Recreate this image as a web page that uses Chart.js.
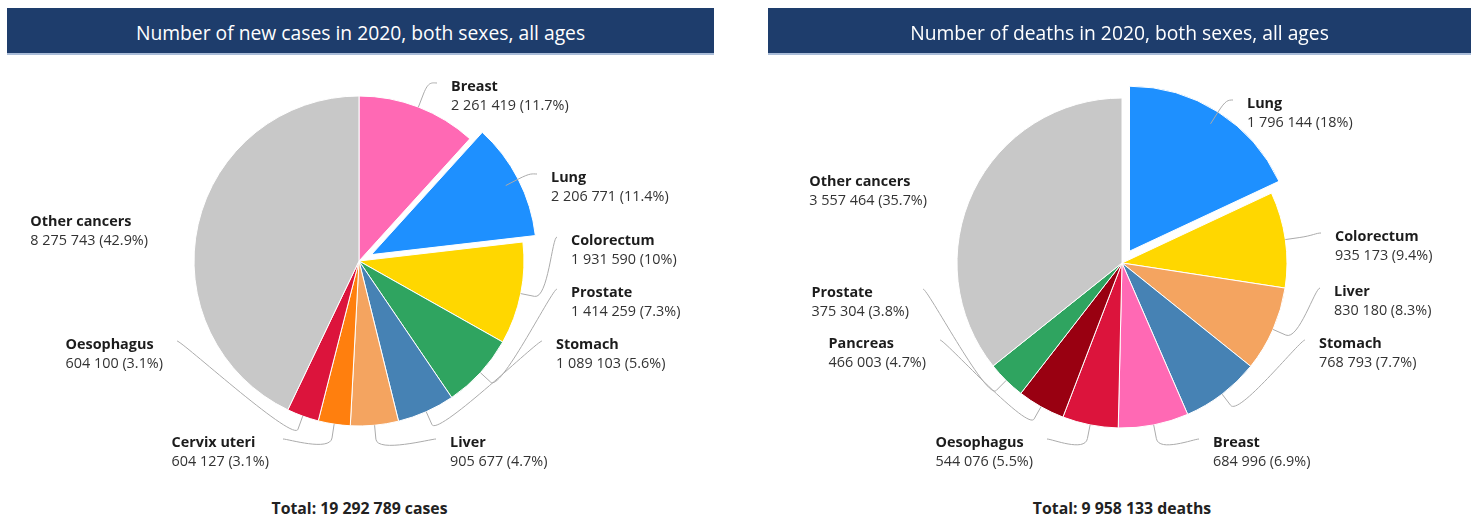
<!DOCTYPE html>
<html><head><meta charset="utf-8">
<script src="https://cdn.jsdelivr.net/npm/chart.js@4.4.1/dist/chart.umd.min.js"></script>
<style>
html,body{margin:0;padding:0;background:#fff;width:1478px;height:517px;overflow:hidden;font-family:"Open Sans",sans-serif;}
.hdr{position:absolute;top:8px;height:45px;background:#1e3d6c;color:#fff;font-size:19.3px;line-height:50px;text-align:center;border-bottom:2px solid #a9bcd8;overflow:hidden;z-index:2;white-space:nowrap}
.box{position:absolute;height:440px;z-index:1}
.total{position:absolute;top:497px;height:22px;line-height:22px;font-weight:bold;font-size:15.8px;color:#222;text-align:center}
</style></head>
<body>
<div class="hdr" style="left:7px;width:707px;">Number of new cases in 2020, both sexes, all ages</div>
<div class="hdr" style="left:768px;width:703px;">Number of deaths in 2020, both sexes, all ages</div>
<div class="box" style="left:0px;top:41px;width:718px;"><canvas id="c1"></canvas></div>
<div class="box" style="left:772px;top:43px;width:700px;"><canvas id="c2"></canvas></div>
<div class="total" id="t1" style="left:0px;width:719px;"></div>
<div class="total" id="t2" style="left:772px;width:700px;"></div>
<script>
// ---- data ----
const casesLabels = ['Breast','Lung','Colorectum','Prostate','Stomach','Liver','Cervix uteri','Oesophagus','Other cancers'];
const casesValues = [2261419,2206771,1931590,1414259,1089103,905677,604127,604100,8275743];
const casesColors = ['#ff69b4','#1e90ff','#ffd700','#2fa460','#4682b4','#f4a460','#ff7f0e','#dc143c','#c8c8c8'];
const casesExploded = [0,1,0,0,0,0,0,0,0];

const deathsLabels = ['Lung','Colorectum','Liver','Stomach','Breast','Oesophagus','Pancreas','Prostate','Other cancers'];
const deathsValues = [1796144,935173,830180,768793,684996,544076,466003,375304,3557464];
const deathsColors = ['#1e90ff','#ffd700','#f4a460','#4682b4','#ff69b4','#dc143c','#990011','#2fa460','#c8c8c8'];
const deathsExploded = [1,0,0,0,0,0,0,0,0];

// ---- label layout (connector end relative to pie centre, side, connector) ----
const casesLabelLayout = [
  [78,-178,'r',1],[178,-87,'r',1],[198,-24,'r',1],[198,28,'r',1],[183,80,'r',1],
  [77,178,'r',1],[-76,178,'l',1],[-182,80,'l',1],[-197,-43,'l',0]
];
const deathsLabelLayout = [
  [111,-163,'r',1],[199,-30,'r',1],[198,25,'r',1],[183,77,'r',1],[77,176,'r',1],
  [-75,176,'l',1],[-182,77,'l',1],[-199,26,'l',1],[-181,-85,'l',0]
];

const PIE_RADIUS = 165;
const SLICE_SHIFT = 14;   // px an exploded slice moves outward
const LABEL_FONT = 14.4;

function fmt(n){ return String(n).replace(/\B(?=(\d{3})+(?!\d))/g,' '); }
function pct(v,t){ const p=Math.round(v/t*1000)/10; return (p%1===0? p.toFixed(0):p.toFixed(1))+'%'; }

const labelPlugin = {
  id:'pieLabels',
  beforeDatasetsDraw(chart, args, opts){
    // exploded slices: library arc drawn with a translation along its mid angle
    const meta = chart.getDatasetMeta(0);
    meta.data.forEach((arc,i)=>{
      if (!opts.exploded[i] || arc._wrapped) return;
      const orig = arc.draw;
      arc.draw = function(ctx){
        const m = (this.startAngle+this.endAngle)/2;
        ctx.save();
        ctx.translate(Math.cos(m)*SLICE_SHIFT, Math.sin(m)*SLICE_SHIFT);
        orig.call(this, ctx);
        ctx.restore();
      };
      arc._wrapped = true;
    });
  },
  afterDatasetsDraw(chart, args, opts){
    const ctx = chart.ctx;
    const meta = chart.getDatasetMeta(0);
    const ds = chart.data.datasets[0];
    const total = ds.data.reduce((a,b)=>a+b,0);
    const layout = opts.layout;
    ctx.save();
    meta.data.forEach((arc,i)=>{
      const p = arc.getProps(['x','y','startAngle','endAngle','outerRadius'], true);
      const mid = (p.startAngle+p.endAngle)/2;
      const dx = Math.cos(mid), dy = Math.sin(mid);
      const r = p.outerRadius;
      const T = [p.x+dx*r, p.y+dy*r];
      const B = [p.x+dx*(r+14), p.y+dy*(r+14)];
      const [ox,oy,side,line] = layout[i];
      const L = [p.x+ox, p.y+oy];
      if (line){
        ctx.beginPath();
        ctx.strokeStyle = '#ababab';
        ctx.lineWidth = 1;
        ctx.moveTo(L[0],L[1]);
        ctx.bezierCurveTo(L[0]+(side==='r'?-5:5), L[1], 2*B[0]-T[0], 2*B[1]-T[1], B[0], B[1]);
        ctx.lineTo(T[0],T[1]);
        ctx.stroke();
      }
      const name = chart.data.labels[i];
      const val = fmt(ds.data[i])+' ('+pct(ds.data[i],total)+')';
      ctx.font = 'bold '+LABEL_FONT+'px "Open Sans"';
      const w1 = ctx.measureText(name).width;
      ctx.font = LABEL_FONT+'px "Open Sans"';
      const w2 = ctx.measureText(val).width;
      const tx = side==='r' ? L[0]+14 : L[0]-14-Math.max(w1,w2);
      ctx.textBaseline='middle';
      ctx.textAlign='left';
      ctx.fillStyle='#1c1c1c';
      ctx.font = 'bold '+LABEL_FONT+'px "Open Sans"';
      ctx.fillText(name, tx, L[1]+4);
      ctx.fillStyle='#333';
      ctx.font = LABEL_FONT+'px "Open Sans"';
      ctx.fillText(val, tx, L[1]+23);
    });
    ctx.restore();
  }
};

function makePie(id, labels, values, colors, exploded, layout){
  return new Chart(document.getElementById(id), {
    type:'pie',
    data:{ labels:labels, datasets:[{ data:values, backgroundColor:colors, borderColor:'#ffffff', borderWidth:1 }]},
    options:{
      responsive:true, maintainAspectRatio:false, animation:false, events:[],
      radius:PIE_RADIUS,
      layout:{padding:0},
      plugins:{ legend:{display:false}, tooltip:{enabled:false}, title:{display:false},
        pieLabels:{layout:layout, exploded:exploded} }
    },
    plugins:[labelPlugin]
  });
}
makePie('c1', casesLabels, casesValues, casesColors, casesExploded, casesLabelLayout);
makePie('c2', deathsLabels, deathsValues, deathsColors, deathsExploded, deathsLabelLayout);
document.getElementById('t1').textContent = 'Total: '+fmt(casesValues.reduce((a,b)=>a+b,0))+' cases';
document.getElementById('t2').textContent = 'Total: '+fmt(deathsValues.reduce((a,b)=>a+b,0))+' deaths';
</script>
</body></html>
